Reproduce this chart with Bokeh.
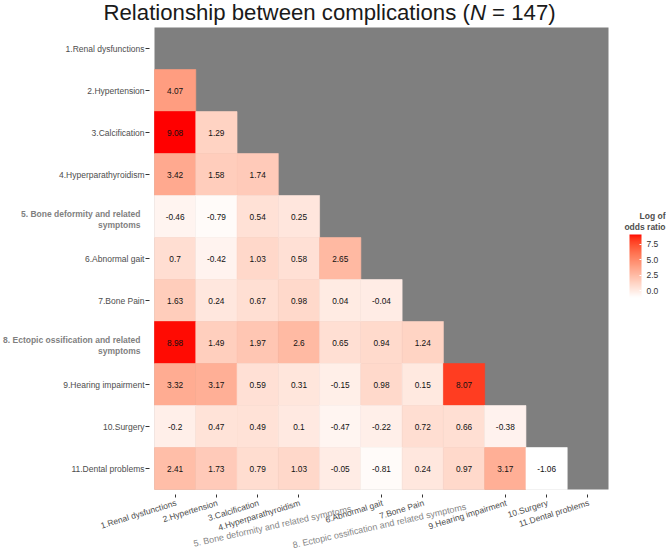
import numpy as np
from bokeh.plotting import figure
from bokeh.models import (ColumnDataSource, Range1d, FixedTicker, Label, ColorBar,
                          LinearColorMapper, PrintfTickFormatter)
from bokeh.core.properties import value
from bokeh.embed import file_html
from bokeh.resources import INLINE

# ---------------- data ----------------
labels = ["1.Renal dysfunctions", "2.Hypertension", "3.Calcification",
          "4.Hyperparathyroidism", "5. Bone deformity and related symptoms",
          "6.Abnormal gait", "7.Bone Pain",
          "8. Ectopic ossification and related symptoms", "9.Hearing impairment",
          "10.Surgery", "11.Dental problems"]
highlight = [5, 8]  # bold / wrapped categories

row2 = [4.07]
row3 = [9.08, 1.29]
row4 = [3.42, 1.58, 1.74]
row5 = [-0.46, -0.79, 0.54, 0.25]
row6 = [0.7, -0.42, 1.03, 0.58, 2.65]
row7 = [1.63, 0.24, 0.67, 0.98, 0.04, -0.04]
row8 = [8.98, 1.49, 1.97, 2.6, 0.65, 0.94, 1.24]
row9 = [3.32, 3.17, 0.59, 0.31, -0.15, 0.98, 0.15, 8.07]
row10 = [-0.2, 0.47, 0.49, 0.1, -0.47, -0.22, 0.72, 0.66, -0.38]
row11 = [2.41, 1.73, 0.79, 1.03, -0.05, -0.81, 0.24, 0.97, 3.17, -1.06]
rows = [row2, row3, row4, row5, row6, row7, row8, row9, row10, row11]

legend_ticks = [0.0, 2.5, 5.0, 7.5]
legend_title = ["Log of", "odds ratio"]
title_parts = ["Relationship between complications (", "N", "= 147)"]

FONT = "Liberation Sans"
W, H = 666, 556
# heatmap panel placement on the canvas (pixels)
PX_L, PX_R, PX_T, PX_B = 154, 608, 27, 489
# placement of the (untied) x labels of the highlighted categories: (dx, dy)
HL_XOFF = {5: (11, -19), 8: (2, -17)}

n = len(labels)
xs, ys, vals, txt = [], [], [], []
for i, r in enumerate(rows):
    for j, v in enumerate(r):
        xs.append(j + 1)
        ys.append(i + 2)
        vals.append(v)
        txt.append(str(v))
src = ColumnDataSource(dict(x=xs, y=ys, v=vals, t=txt))


# white -> red gradient interpolated in CIE Lab (like ggplot's scale_fill_gradient)
def lab_to_hex(L, a, b):
    fy = (L + 16) / 116.0
    fx = fy + a / 500.0
    fz = fy - b / 200.0

    def finv(t):
        return t ** 3 if t > 6 / 29 else 3 * (6 / 29) ** 2 * (t - 4 / 29)

    X = 0.95047 * finv(fx)
    Y = 1.0 * finv(fy)
    Z = 1.08883 * finv(fz)
    rl = 3.2406 * X - 1.5372 * Y - 0.4986 * Z
    gl = -0.9689 * X + 1.8758 * Y + 0.0415 * Z
    bl = 0.0557 * X - 0.2040 * Y + 1.0570 * Z
    out = []
    for c in (rl, gl, bl):
        c = min(max(c, 0.0), 1.0)
        c = 12.92 * c if c <= 0.0031308 else 1.055 * c ** (1 / 2.4) - 0.055
        out.append(int(round(min(max(c, 0.0), 1.0) * 255)))
    return "#%02x%02x%02x" % tuple(out)


red_lab = (53.2408, 80.0925, 67.2032)
palette = [lab_to_hex(100 + t * (red_lab[0] - 100), t * red_lab[1], t * red_lab[2])
           for t in np.linspace(0, 1, 256)]
mapper = LinearColorMapper(palette=palette, low=min(vals), high=max(vals))

# ---------------- figure ----------------
cw = (PX_R - PX_L) / n
ch = (PX_B - PX_T) / n
x_range = Range1d(0.5 - PX_L / cw, 0.5 + (W - PX_L) / cw)
y_range = Range1d(0.5 + (H - PX_T) / ch, 0.5 - PX_T / ch)

p = figure(width=W, height=H, x_range=x_range, y_range=y_range,
           output_backend="svg", toolbar_location=None, title=None,
           min_border=0, min_border_left=0, min_border_right=0,
           min_border_top=0, min_border_bottom=0)
p.background_fill_color = "white"
p.border_fill_color = "white"
p.outline_line_color = None
p.grid.visible = False

# grey panel behind the triangle
p.rect(x=(n + 1) / 2, y=(n + 1) / 2, width=n, height=n,
       fill_color="#7f7f7f", line_color=None)

p.rect(x="x", y="y", width=1, height=1, source=src,
       fill_color={"field": "v", "transform": mapper},
       line_color={"field": "v", "transform": mapper}, line_width=0.6)
p.text(x="x", y="y", text="t", source=src, text_align="center",
       text_baseline="middle", text_font=value(FONT), text_font_size="8.3px",
       text_color="#111111")

plain_ticks = [k for k in range(1, n + 1) if k not in highlight]

# x axis (ticks) fixed at the panel bottom
p.xaxis.fixed_location = n + 0.5
p.xaxis.ticker = FixedTicker(ticks=plain_ticks)
p.xaxis.major_label_overrides = {k: "" for k in plain_ticks}
p.xaxis.axis_line_color = None
p.xaxis.major_tick_in = -5
p.xaxis.major_tick_out = 8
p.xaxis.major_tick_line_color = "#333333"
p.xaxis.minor_tick_line_color = None

# y axis fixed at the panel left
p.yaxis.fixed_location = 0.5
p.yaxis.ticker = FixedTicker(ticks=plain_ticks)
p.yaxis.major_label_overrides = {k: labels[k - 1] for k in plain_ticks}
p.yaxis.axis_line_color = None
p.yaxis.major_tick_in = -5
p.yaxis.major_tick_out = 9
p.yaxis.major_label_standoff = 1
p.yaxis.major_tick_line_color = "#333333"
p.yaxis.minor_tick_line_color = None
p.yaxis.major_label_text_font = FONT
p.yaxis.major_label_text_font_size = "8.5px"
p.yaxis.major_label_text_color = "#4d4d4d"

# rotated x labels
for k, name in enumerate(labels, start=1):
    if k in highlight:
        dx, dy = HL_XOFF[k]
        lab = Label(x=k, y=n + 0.5, x_offset=dx, y_offset=dy, text=name,
                    angle=0.22, angle_units="rad", text_align="right",
                    text_baseline="middle", text_font=FONT,
                    text_font_size="9px", text_color="#858585")
    else:
        lab = Label(x=k, y=n + 0.5, x_offset=1, y_offset=-13, text=name,
                    angle=0.30, angle_units="rad", text_align="right",
                    text_baseline="middle", text_font=FONT,
                    text_font_size="8.5px", text_color="#4d4d4d")
    p.add_layout(lab)

# bold wrapped y labels
for k in highlight:
    first, second = labels[k - 1].rsplit(" ", 1)
    for line, off in ((first, 3), (second, -8)):
        p.add_layout(Label(x=0.5, y=k, x_offset=-14, y_offset=off, text=line,
                           text_align="right", text_baseline="middle",
                           text_font=FONT, text_font_size="8.5px",
                           text_font_style="bold", text_color="#7f7f7f"))

# title with italic N
offs = [-51.0, -51.0 + 366.4, -51.0 + 366.4 + 22.2]
for part, off in zip(title_parts, offs):
    p.add_layout(Label(x=0.5, y=0.5, x_offset=off, y_offset=15, text=part,
                       text_align="left", text_baseline="alphabetic",
                       text_font=FONT, text_font_size="22.2px",
                       text_font_style="italic" if part == "N" else "normal",
                       text_color="#1a1a1a"))

# legend title
for line, off in zip(legend_title, (-188, -199)):
    p.add_layout(Label(x=n + 0.5, y=0.5, x_offset=57, y_offset=off, text=line,
                       text_align="right", text_baseline="middle",
                       text_font=FONT, text_font_size="8.5px",
                       text_font_style="bold", text_color="#4d4d4d"))

cb = ColorBar(color_mapper=mapper, ticker=FixedTicker(ticks=legend_ticks),
              formatter=PrintfTickFormatter(format="%.1f"),
              width=12, height=63, padding=0, location=(629, H - 297),
              label_standoff=5, major_label_text_font=FONT,
              major_label_text_font_size="8.5px",
              major_label_text_color="#333333",
              major_tick_line_color="white", major_tick_in=2, major_tick_out=0,
              bar_line_color=None, border_line_color=None,
              background_fill_alpha=0)
p.add_layout(cb)

open("out.html", "w").write(file_html(p, INLINE))
